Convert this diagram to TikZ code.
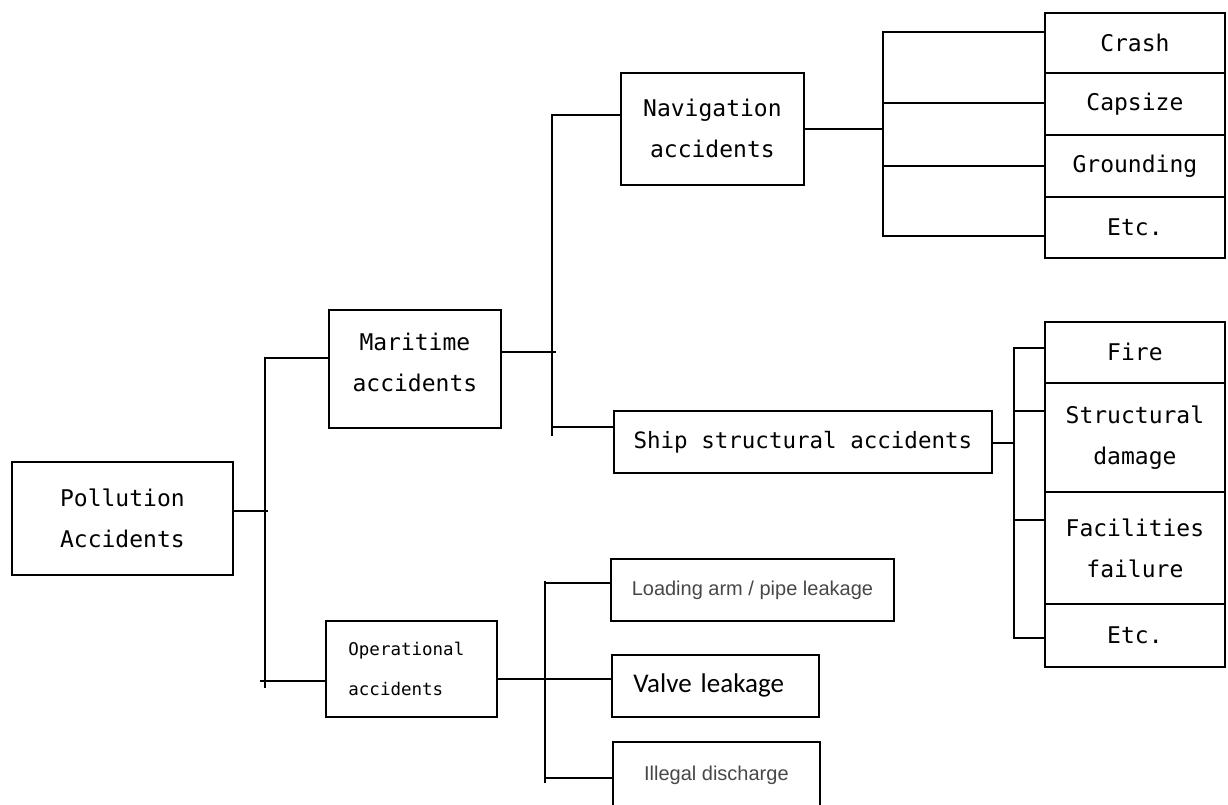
\documentclass[tikz,border=0pt]{standalone}
\usepackage{fontspec}
\newfontfamily\monof{DejaVu Sans Mono}
\newfontfamily\arialf{Liberation Sans}
\newfontfamily\calf{Carlito}
\begin{document}
\begin{tikzpicture}[x=1pt,y=-1pt,line width=1.8pt,line cap=rect,
  box/.style={draw,rectangle,inner sep=0pt,anchor=north west,align=center,
    font=\monof\fontsize{23}{41}\selectfont},
  smallmono/.style={font=\monof\fontsize{17.5}{40}\selectfont,align=left,text width=126},
  grayarial/.style={font=\arialf\fontsize{20}{24}\selectfont,text=black!72},
  calibri/.style={font=\calf\fontsize{27}{30}\selectfont,text width=164,align=left}]
\useasboundingbox (0,0) rectangle (1228,804);
\clip (0,0) rectangle (1228,804);

% main boxes
\node[box,minimum width=221,minimum height=113] (poll) at (11,461) {Pollution\\Accidents};
\node[box,minimum width=172,minimum height=118,text depth=14] (mar) at (328,309) {Maritime\\accidents};
\node[box,smallmono,minimum width=171,minimum height=96] (op) at (325,620) {Operational\\accidents};
\node[box,minimum width=183,minimum height=112] (nav) at (620,72) {Navigation\\accidents};
\node[box,minimum width=378,minimum height=62,font=\monof\fontsize{22.5}{30}\selectfont] (ship) at (613,410) {Ship structural accidents};

% navigation stack
\node[box,minimum width=180,minimum height=60] (crash) at (1044,12) {Crash};
\node[box,minimum width=180,minimum height=62] (capsize) at (1044,72) {Capsize};
\node[box,minimum width=180,minimum height=62] (ground) at (1044,134) {Grounding};
\node[box,minimum width=180,minimum height=61] (etca) at (1044,196) {Etc.};

% structural stack
\node[box,minimum width=180,minimum height=61] (fire) at (1044,321) {Fire};
\node[box,minimum width=180,minimum height=109] (struct) at (1044,382) {Structural\\damage};
\node[box,minimum width=180,minimum height=112] (facil) at (1044,491) {Facilities\\failure};
\node[box,minimum width=180,minimum height=63] (etcb) at (1044,603) {Etc.};

% operational children
\node[box,grayarial,minimum width=283,minimum height=62] (load) at (610,558) {Loading arm / pipe leakage};
\node[box,calibri,minimum width=207,minimum height=62] (valve) at (611,654) {Valve leakage};
\node[box,grayarial,minimum width=207,minimum height=80,text height=14,text depth=16] (illegal) at (612,741) {Illegal discharge};

% bus 1
\coordinate (b1t) at (265,358);
\coordinate (b1b) at (265,687);
\coordinate (pout) at (267,511);
\coordinate (oin) at (261,681);
\draw (b1t) -- (b1b);
\draw (pout -| poll.east) -- (pout);
\draw (b1t) -- (b1t -| mar.west);
\draw (oin) -- (oin -| op.west);

% bus 2
\coordinate (b2t) at (552,115);
\coordinate (b2b) at (552,435);
\coordinate (mout) at (555,352);
\coordinate (sin) at (552,427);
\draw (b2t) -- (b2b);
\draw (mout -| mar.east) -- (mout);
\draw (b2t) -- (b2t -| nav.west);
\draw (sin) -- (sin -| ship.west);

% bus 3
\coordinate (b3t) at (883,32);
\coordinate (b3b) at (883,236);
\coordinate (nout) at (883,129);
\coordinate (c2) at (883,103);
\coordinate (c3) at (883,166);
\draw (b3t) -- (b3b);
\draw (nout -| nav.east) -- (nout);
\draw (b3t) -- (b3t -| crash.west);
\draw (c2) -- (c2 -| capsize.west);
\draw (c3) -- (c3 -| ground.west);
\draw (b3b) -- (b3b -| etca.west);

% bus 4
\coordinate (b4t) at (1014,348);
\coordinate (b4b) at (1014,638);
\coordinate (sout) at (1014,443);
\coordinate (f2) at (1014,411);
\coordinate (f3) at (1014,520);
\draw (b4t) -- (b4b);
\draw (sout -| ship.east) -- (sout);
\draw (b4t) -- (b4t -| fire.west);
\draw (f2) -- (f2 -| struct.west);
\draw (f3) -- (f3 -| facil.west);
\draw (b4b) -- (b4b -| etcb.west);

% bus 5
\coordinate (b5t) at (545,582);
\coordinate (b5b) at (545,782);
\coordinate (l1) at (545,583);
\coordinate (oout) at (545,679);
\coordinate (l3) at (545,778);
\draw (b5t) -- (b5b);
\draw (oout -| op.east) -- (oout);
\draw (l1) -- (l1 -| load.west);
\draw (oout) -- (oout -| valve.west);
\draw (l3) -- (l3 -| illegal.west);
\end{tikzpicture}
\end{document}
